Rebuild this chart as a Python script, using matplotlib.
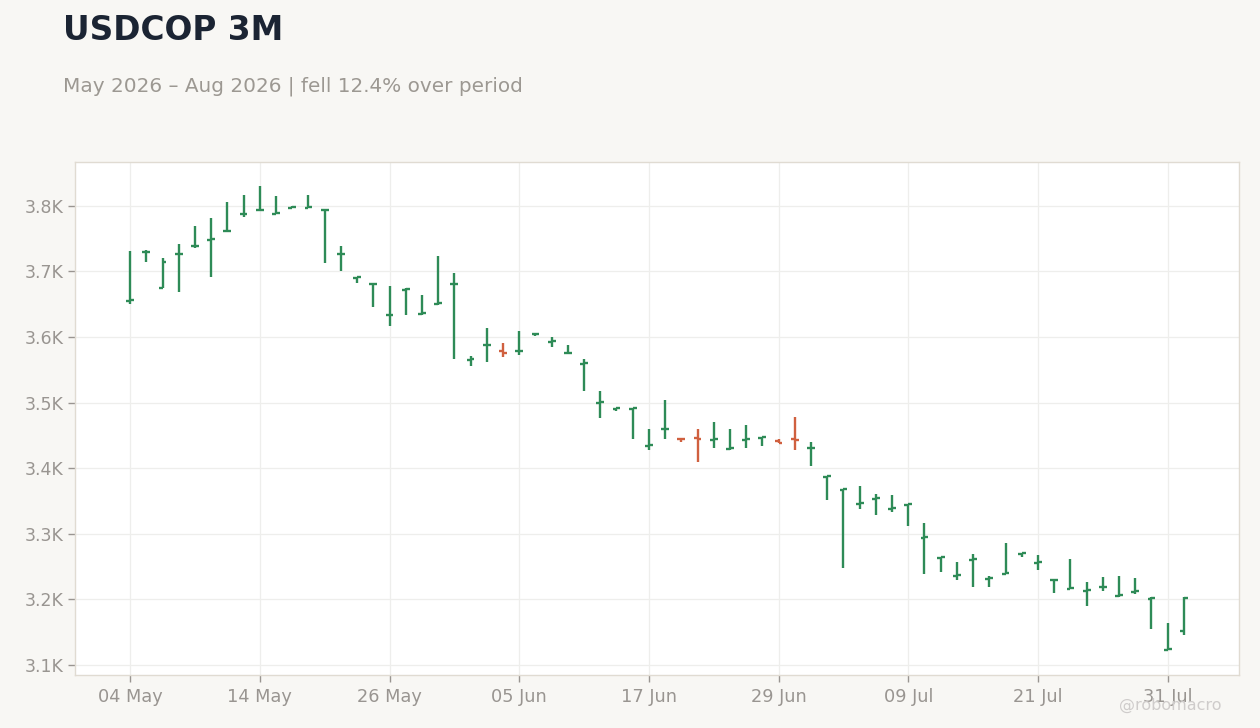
import matplotlib
matplotlib.use("Agg")
import matplotlib.pyplot as plt
from matplotlib.ticker import FuncFormatter, MultipleLocator
import numpy as np
import pandas as pd

# ---- data ----
start_date = "2026-05-04"
n_bars = 66
opens = [3655, 3729, 3675, 3726, 3738, 3748, 3761, 3787, 3793, 3788,
         3797, 3797, 3793, 3726, 3690, 3680, 3633, 3672, 3635, 3651,
         3680, 3565, 3587, 3578, 3578, 3604, 3593, 3575, 3559, 3500,
         3490, 3490, 3434, 3459, 3445, 3446, 3443, 3429, 3443, 3446,
         3441, 3445, 3430, 3387, 3367, 3346, 3353, 3338, 3344, 3294,
         3263, 3236, 3260, 3231, 3239, 3269, 3256, 3229, 3216, 3213,
         3218, 3205, 3211, 3201, 3123, 3152]
highs = [3731, 3733, 3721, 3742, 3769, 3782, 3806, 3817, 3830, 3815,
         3799, 3817, 3794, 3738, 3691, 3681, 3678, 3675, 3664, 3724,
         3698, 3571, 3614, 3591, 3609, 3605, 3600, 3588, 3567, 3518,
         3491, 3491, 3460, 3504, 3446, 3460, 3471, 3460, 3466, 3447,
         3445, 3478, 3440, 3388, 3368, 3373, 3361, 3359, 3345, 3316,
         3264, 3257, 3269, 3235, 3286, 3270, 3267, 3230, 3261, 3227,
         3234, 3236, 3233, 3203, 3164, 3203]
lows = [3650, 3715, 3675, 3669, 3736, 3692, 3761, 3783, 3792, 3788,
        3796, 3797, 3713, 3700, 3682, 3645, 3616, 3634, 3634, 3649,
        3567, 3555, 3562, 3570, 3572, 3602, 3584, 3575, 3517, 3477,
        3487, 3445, 3427, 3444, 3440, 3410, 3430, 3428, 3431, 3434,
        3438, 3428, 3403, 3352, 3248, 3338, 3328, 3333, 3311, 3239,
        3241, 3229, 3219, 3218, 3238, 3264, 3244, 3210, 3215, 3189,
        3212, 3204, 3208, 3154, 3122, 3145]
closes = [3656, 3730, 3714, 3727, 3739, 3749, 3762, 3788, 3794, 3789,
          3798, 3798, 3794, 3727, 3691, 3681, 3634, 3673, 3636, 3652,
          3681, 3566, 3588, 3575, 3579, 3605, 3594, 3576, 3560, 3501,
          3491, 3491, 3435, 3460, 3444, 3444, 3444, 3430, 3444, 3447,
          3439, 3443, 3431, 3388, 3368, 3347, 3354, 3339, 3345, 3295,
          3264, 3237, 3261, 3232, 3240, 3270, 3257, 3230, 3217, 3214,
          3219, 3206, 3212, 3202, 3124, 3202]

title = "USDCOP 3M"
watermark = "@robomacro"

# ---- styling ----
BG = "#f8f7f4"
UP = "#2e8b57"
DOWN = "#d0603f"
GRID = "#eeeeec"
SPINE = "#e0dbd2"
TICKC = "#999591"
TITLEC = "#1b2433"

dates = pd.bdate_range(start_date, periods=n_bars)
x = np.arange(n_bars)
o = np.array(opens); h = np.array(highs); l = np.array(lows); c = np.array(closes)
colors = [UP if cc >= oo else DOWN for oo, cc in zip(o, c)]

fig = plt.figure(figsize=(12.6, 7.28), dpi=100, facecolor=BG)
ax = fig.add_axes([75/1260, 53/728, (1239-75)/1260, (675-162)/728])
ax.set_facecolor("white")

lw = 1.7
tw = 0.24
ax.vlines(x, l, h, colors=colors, linewidth=lw, capstyle="butt")
ax.hlines(o, x - tw, x, colors=colors, linewidth=lw)
ax.hlines(c, x, x + tw, colors=colors, linewidth=lw)

ax.set_xlim(-3.4, n_bars + 2.4)
span = max(highs) - min(lows)
ax.set_ylim(min(lows) - 0.053 * span, max(highs) + 0.052 * span)

tick_idx = list(range(0, n_bars, 8))
ax.set_xticks(tick_idx)
ax.set_xticklabels([dates[i].strftime("%d %b") for i in tick_idx])
ax.yaxis.set_major_locator(MultipleLocator(100))
ax.yaxis.set_major_formatter(FuncFormatter(lambda v, p: f"{v/1000:.1f}K"))

ax.grid(True, color=GRID, linewidth=0.9)
ax.set_axisbelow(True)
for s in ax.spines.values():
    s.set_color(SPINE)
    s.set_linewidth(1.0)
ax.tick_params(axis="both", colors=TICKC, labelcolor=TICKC, labelsize=12.5,
               length=5, width=1)
ax.tick_params(axis="x", labelsize=12.8, pad=4)

pct = (closes[-1] - closes[0]) / closes[0] * 100
direction = "fell" if pct < 0 else "rose"
subtitle = f"{dates[0].strftime('%b %Y')} \u2013 {dates[-1].strftime('%b %Y')} | {direction} {abs(pct):.1f}% over period"

fig.text(63/1260, 1 - 40/728, title, fontsize=23.6, fontweight="bold",
         color=TITLEC, va="baseline", ha="left")
fig.text(63/1260, 1 - 92/728, subtitle, fontsize=14.4, color="#9c9892",
         va="baseline", ha="left")
fig.text(1222/1260, 1 - 710/728, watermark, fontsize=11.5, color="#cfcccb",
         va="baseline", ha="right")

fig.savefig("out.png", dpi=100, facecolor=BG)
